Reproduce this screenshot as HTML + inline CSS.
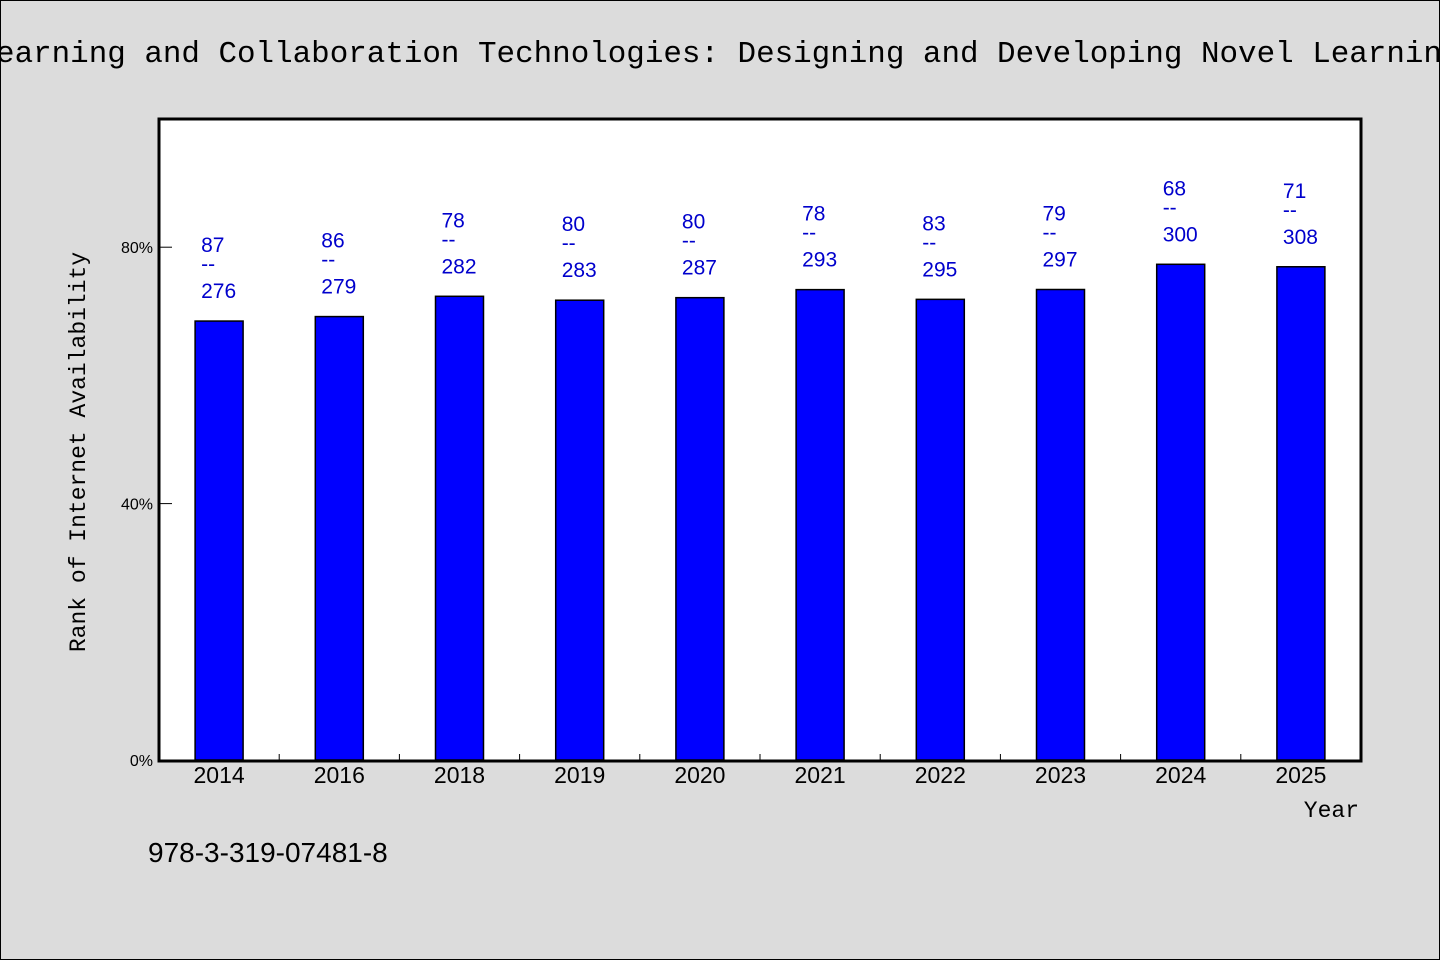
<!DOCTYPE html>
<html><head><meta charset="utf-8"><style>
body{margin:0;background:#dcdcdc;}
svg{display:block;}
</style></head><body>
<svg width="1440" height="960">
<rect x="0.5" y="0.5" width="1439" height="959" fill="#dcdcdc" stroke="#000"/>
<text x="719" y="62" text-anchor="middle" font-family="Liberation Mono, monospace" font-size="30.9" fill="#000">Learning and Collaboration Technologies: Designing and Developing Novel Learning</text>
<rect x="159" y="119" width="1202" height="642" fill="#fff"/>
<g id="bars"></g>
<g id="axes"></g>
<rect x="159" y="119" width="1202" height="642" fill="none" stroke="#000" stroke-width="3"/>
<text x="85" y="452" transform="rotate(-90 85 452)" text-anchor="middle" font-family="Liberation Mono, monospace" font-size="23" fill="#000">Rank of Internet Availability</text>
<text x="1359" y="817" text-anchor="end" font-family="Liberation Mono, monospace" font-size="23" fill="#000">Year</text>
<text x="148" y="862" font-family="Liberation Sans, sans-serif" font-size="28" fill="#000">978-3-319-07481-8</text>
</svg>
<script>
const categories=["2014","2016","2018","2019","2020","2021","2022","2023","2024","2025"];
const ranks=[87,86,78,80,80,78,83,79,68,71];
const totals=[276,279,282,283,287,293,295,297,300,308];
const yTicks=[0,40,80];
const NS="http://www.w3.org/2000/svg";
const L=159,R=1361,T=119,B=760;
const yMax=100;
function y(v){return B-(v/yMax)*(B-T);}
const bw=(R-L)/categories.length;
function x(i){return L+bw*(i+0.5);}
const bars=document.getElementById('bars'),axes=document.getElementById('axes');
function mk(tag,attrs,parent){const e=document.createElementNS(NS,tag);for(const k in attrs)e.setAttribute(k,attrs[k]);parent.appendChild(e);return e;}
categories.forEach((c,i)=>{
  const v=(totals[i]-ranks[i])/totals[i]*100;
  const top=y(v);
  const r=mk('rect',{x:x(i)-24,y:top,width:48,height:B-top,fill:'#0000ff',stroke:'#000','stroke-width':1.5},bars);
  
  
  const g=mk('g',{'font-family':'Liberation Sans, sans-serif','font-size':21,fill:'#0000cc'},bars);
  
  
  const lx=x(i)-18;
  const t1=mk('text',{x:lx,y:top-69},g);t1.textContent=ranks[i];
  const t2=mk('text',{x:lx,y:top-50},g);t2.textContent='--';
  const t3=mk('text',{x:lx,y:top-23},g);t3.textContent=totals[i];
  const t=mk('text',{x:x(i),y:783,'text-anchor':'middle','font-family':'Liberation Sans, sans-serif','font-size':23,fill:'#000'},axes);
  t.textContent=c;
  
  
  if(i>0){const tk=mk('line',{x1:L+bw*i,x2:L+bw*i,y1:B,y2:B-6,stroke:'#000','stroke-width':1},axes);
  
  }
});
yTicks.forEach(v=>{
  const ln=mk('line',{x1:L,x2:L+13,y1:y(v),y2:y(v),stroke:'#000','stroke-width':1},axes);
  
  
  const t=mk('text',{x:153,y:y(v)+6,'text-anchor':'end','font-family':'Liberation Sans, sans-serif','font-size':16,fill:'#000'},axes);
  t.textContent=v+'%';
  
  
});
</script>
</body></html>
